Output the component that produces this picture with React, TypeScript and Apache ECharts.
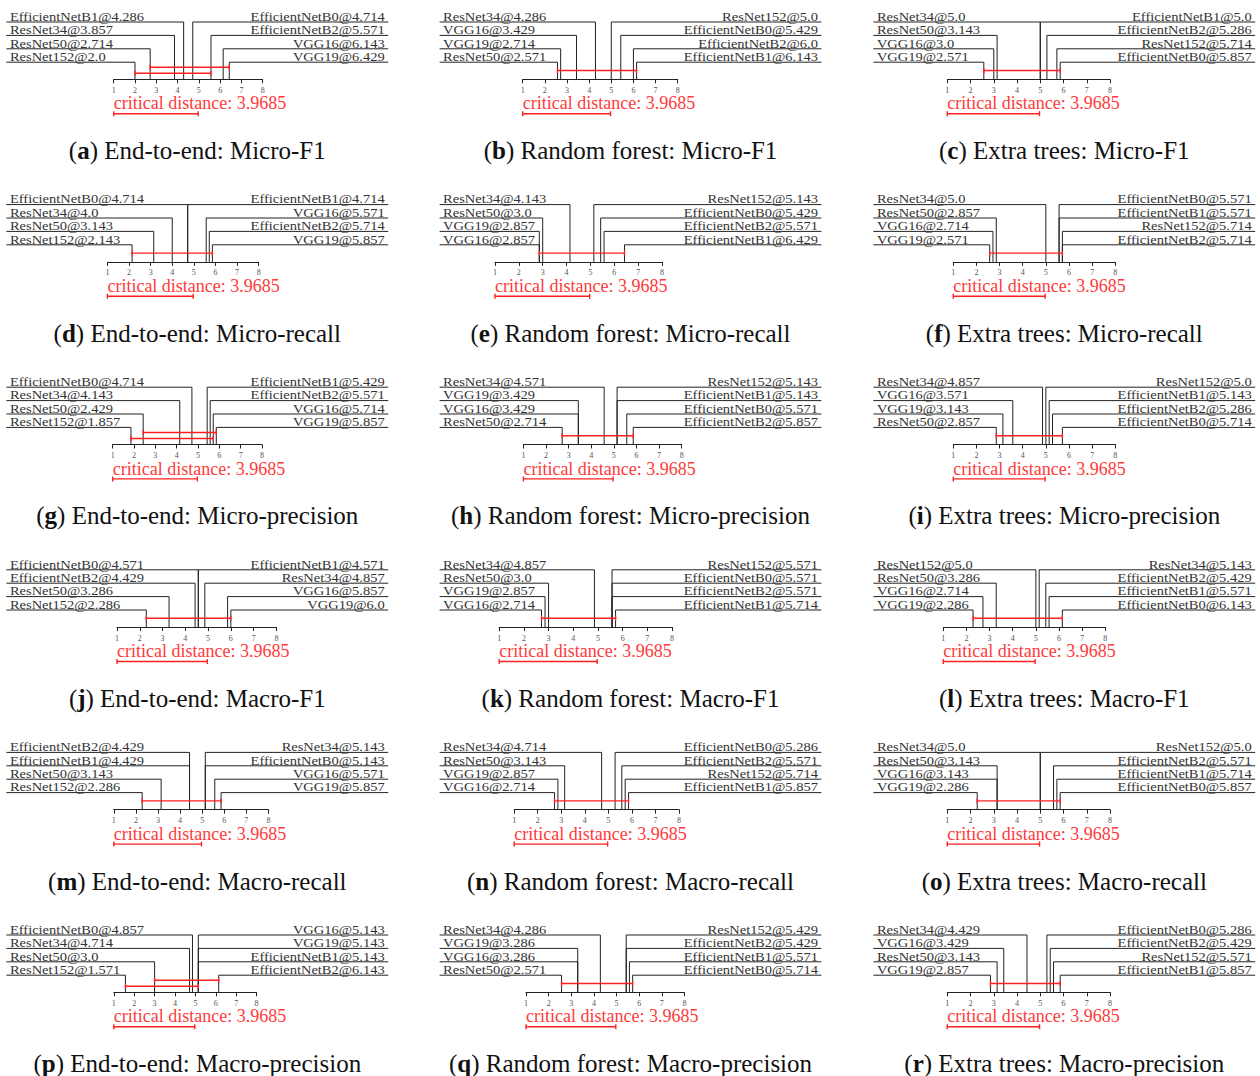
import React, { useEffect, useRef } from "react";
import * as echarts from "echarts";

// ---------- data ----------
const CD = 3.9685;

const NAMES_A = ["EfficientNetB1", "ResNet34", "ResNet50", "ResNet152", "EfficientNetB0", "EfficientNetB2", "VGG16", "VGG19"];
const RANKS_A = [4.286, 3.857, 2.714, 2.0, 4.714, 5.571, 6.143, 6.429];
const CLIQUES_A = [[2.714, 6.429], [2.0, 5.571]];

const NAMES_B = ["ResNet34", "VGG16", "VGG19", "ResNet50", "ResNet152", "EfficientNetB0", "EfficientNetB2", "EfficientNetB1"];
const RANKS_B = [4.286, 3.429, 2.714, 2.571, 5.0, 5.429, 6.0, 6.143];
const CLIQUES_B = [[2.571, 6.143]];

const NAMES_C = ["ResNet34", "ResNet50", "VGG16", "VGG19", "EfficientNetB1", "EfficientNetB2", "ResNet152", "EfficientNetB0"];
const RANKS_C = [5.0, 3.143, 3.0, 2.571, 5.0, 5.286, 5.714, 5.857];
const CLIQUES_C = [[2.571, 5.857]];

const NAMES_D = ["EfficientNetB0", "ResNet34", "ResNet50", "ResNet152", "EfficientNetB1", "VGG16", "EfficientNetB2", "VGG19"];
const RANKS_D = [4.714, 4.0, 3.143, 2.143, 4.714, 5.571, 5.714, 5.857];
const CLIQUES_D = [[2.143, 5.857]];

const NAMES_E = ["ResNet34", "ResNet50", "VGG19", "VGG16", "ResNet152", "EfficientNetB0", "EfficientNetB2", "EfficientNetB1"];
const RANKS_E = [4.143, 3.0, 2.857, 2.857, 5.143, 5.429, 5.571, 6.429];
const CLIQUES_E = [[2.857, 6.429]];

const NAMES_F = ["ResNet34", "ResNet50", "VGG16", "VGG19", "EfficientNetB0", "EfficientNetB1", "ResNet152", "EfficientNetB2"];
const RANKS_F = [5.0, 2.857, 2.714, 2.571, 5.571, 5.571, 5.714, 5.714];
const CLIQUES_F = [[2.571, 5.714]];

const NAMES_G = ["EfficientNetB0", "ResNet34", "ResNet50", "ResNet152", "EfficientNetB1", "EfficientNetB2", "VGG16", "VGG19"];
const RANKS_G = [4.714, 4.143, 2.429, 1.857, 5.429, 5.571, 5.714, 5.857];
const CLIQUES_G = [[2.429, 5.857], [1.857, 5.714]];

const NAMES_H = ["ResNet34", "VGG19", "VGG16", "ResNet50", "ResNet152", "EfficientNetB1", "EfficientNetB0", "EfficientNetB2"];
const RANKS_H = [4.571, 3.429, 3.429, 2.714, 5.143, 5.143, 5.571, 5.857];
const CLIQUES_H = [[2.714, 5.857]];

const NAMES_I = ["ResNet34", "VGG16", "VGG19", "ResNet50", "ResNet152", "EfficientNetB1", "EfficientNetB2", "EfficientNetB0"];
const RANKS_I = [4.857, 3.571, 3.143, 2.857, 5.0, 5.143, 5.286, 5.714];
const CLIQUES_I = [[2.857, 5.714]];

const NAMES_J = ["EfficientNetB0", "EfficientNetB2", "ResNet50", "ResNet152", "EfficientNetB1", "ResNet34", "VGG16", "VGG19"];
const RANKS_J = [4.571, 4.429, 3.286, 2.286, 4.571, 4.857, 5.857, 6.0];
const CLIQUES_J = [[2.286, 6.0]];

const NAMES_K = ["ResNet34", "ResNet50", "VGG19", "VGG16", "ResNet152", "EfficientNetB0", "EfficientNetB2", "EfficientNetB1"];
const RANKS_K = [4.857, 3.0, 2.857, 2.714, 5.571, 5.571, 5.571, 5.714];
const CLIQUES_K = [[2.714, 5.714]];

const NAMES_L = ["ResNet152", "ResNet50", "VGG16", "VGG19", "ResNet34", "EfficientNetB2", "EfficientNetB1", "EfficientNetB0"];
const RANKS_L = [5.0, 3.286, 2.714, 2.286, 5.143, 5.429, 5.571, 6.143];
const CLIQUES_L = [[2.286, 6.143]];

const NAMES_M = ["EfficientNetB2", "EfficientNetB1", "ResNet50", "ResNet152", "ResNet34", "EfficientNetB0", "VGG16", "VGG19"];
const RANKS_M = [4.429, 4.429, 3.143, 2.286, 5.143, 5.143, 5.571, 5.857];
const CLIQUES_M = [[2.286, 5.857]];

const NAMES_N = ["ResNet34", "ResNet50", "VGG19", "VGG16", "EfficientNetB0", "EfficientNetB2", "ResNet152", "EfficientNetB1"];
const RANKS_N = [4.714, 3.143, 2.857, 2.714, 5.286, 5.571, 5.714, 5.857];
const CLIQUES_N = [[2.714, 5.857]];

const NAMES_O = ["ResNet34", "ResNet50", "VGG16", "VGG19", "ResNet152", "EfficientNetB2", "EfficientNetB1", "EfficientNetB0"];
const RANKS_O = [5.0, 3.143, 3.143, 2.286, 5.0, 5.571, 5.714, 5.857];
const CLIQUES_O = [[2.286, 5.857]];

const NAMES_P = ["EfficientNetB0", "ResNet34", "ResNet50", "ResNet152", "VGG16", "VGG19", "EfficientNetB1", "EfficientNetB2"];
const RANKS_P = [4.857, 4.714, 3.0, 1.571, 5.143, 5.143, 5.143, 6.143];
const CLIQUES_P = [[3.0, 6.143], [1.571, 5.143]];

const NAMES_Q = ["ResNet34", "VGG19", "VGG16", "ResNet50", "ResNet152", "EfficientNetB2", "EfficientNetB1", "EfficientNetB0"];
const RANKS_Q = [4.286, 3.286, 3.286, 2.571, 5.429, 5.429, 5.571, 5.714];
const CLIQUES_Q = [[2.571, 5.714]];

const NAMES_R = ["ResNet34", "VGG16", "ResNet50", "VGG19", "EfficientNetB0", "EfficientNetB2", "ResNet152", "EfficientNetB1"];
const RANKS_R = [4.429, 3.429, 3.143, 2.857, 5.286, 5.429, 5.571, 5.857];
const CLIQUES_R = [[2.857, 5.857]];

const LETTERS = ["a", "b", "c", "d", "e", "f", "g", "h", "i", "j", "k", "l", "m", "n", "o", "p", "q", "r"];
const CAPTIONS = [
  "End-to-end: Micro-F1", "Random forest: Micro-F1", "Extra trees: Micro-F1",
  "End-to-end: Micro-recall", "Random forest: Micro-recall", "Extra trees: Micro-recall",
  "End-to-end: Micro-precision", "Random forest: Micro-precision", "Extra trees: Micro-precision",
  "End-to-end: Macro-F1", "Random forest: Macro-F1", "Extra trees: Macro-F1",
  "End-to-end: Macro-recall", "Random forest: Macro-recall", "Extra trees: Macro-recall",
  "End-to-end: Macro-precision", "Random forest: Macro-precision", "Extra trees: Macro-precision",
];
const AXIS_TICKS = [1, 2, 3, 4, 5, 6, 7, 8];

const PANELS = [
  [NAMES_A, RANKS_A, CLIQUES_A], [NAMES_B, RANKS_B, CLIQUES_B], [NAMES_C, RANKS_C, CLIQUES_C],
  [NAMES_D, RANKS_D, CLIQUES_D], [NAMES_E, RANKS_E, CLIQUES_E], [NAMES_F, RANKS_F, CLIQUES_F],
  [NAMES_G, RANKS_G, CLIQUES_G], [NAMES_H, RANKS_H, CLIQUES_H], [NAMES_I, RANKS_I, CLIQUES_I],
  [NAMES_J, RANKS_J, CLIQUES_J], [NAMES_K, RANKS_K, CLIQUES_K], [NAMES_L, RANKS_L, CLIQUES_L],
  [NAMES_M, RANKS_M, CLIQUES_M], [NAMES_N, RANKS_N, CLIQUES_N], [NAMES_O, RANKS_O, CLIQUES_O],
  [NAMES_P, RANKS_P, CLIQUES_P], [NAMES_Q, RANKS_Q, CLIQUES_Q], [NAMES_R, RANKS_R, CLIQUES_R],
] as any[];

// ---------- layout (pixel positions of rank 1 and rank 8 per panel) ----------
const AXIS_X = [
  [113.7, 262.7], [522.7, 677.7], [947.3, 1110],
  [107.4, 258.7], [495, 662], [953.3, 1115.3],
  [112.7, 262], [523.4, 681.7], [953.3, 1115.3],
  [117, 276.4], [499.2, 672], [943.3, 1105.3],
  [113.8, 268.4], [514.2, 679], [947.3, 1110],
  [113.8, 256.6], [526, 684.4], [947.3, 1110],
];
const COL_LEFT = [6.4, 439.6, 873.4];
const COL_W = 381.8;
const ROW_H = 182.6;
const FIRST_LINE = 22;
const AXIS_Y = 79.3;
const ROW_GAP = 13.4;

const SERIF = "'Liberation Serif', 'Times New Roman', serif";
const INK = "#222";
const RED = "#ff2020";

function fmt(v: number) {
  return Number.isInteger(v) ? v.toFixed(1) : String(v);
}

function buildOption() {
  const grid: any[] = [];
  const xAxis: any[] = [];
  const yAxis: any[] = [];
  const series: any[] = [];
  const graphic: any[] = [];

  PANELS.forEach((p, i) => {
    const [names, ranks, cliques] = p;
    const col = i % 3;
    const row = Math.floor(i / 3);
    const top = row * ROW_H;
    const edgeL = COL_LEFT[col];
    const edgeR = edgeL + COL_W;
    const [x1, x8] = AXIS_X[i];

    grid.push({
      left: x1,
      width: x8 - x1,
      top: top + FIRST_LINE,
      height: AXIS_Y - FIRST_LINE,
      containLabel: false,
      outerBoundsMode: "none",
    });
    xAxis.push({
      gridIndex: i,
      type: "value",
      min: AXIS_TICKS[0],
      max: AXIS_TICKS[AXIS_TICKS.length - 1],
      interval: 1,
      axisLine: { show: true, lineStyle: { color: INK, width: 1 } },
      axisTick: { show: true, length: 4, lineStyle: { color: INK, width: 1 } },
      axisLabel: { show: true, fontSize: 8, lineHeight: 8, color: "#555", margin: 7, fontFamily: SERIF },
      splitLine: { show: false },
    });
    yAxis.push({ gridIndex: i, type: "value", min: 0, max: 1, show: false });

    // model lines + labels
    series.push({
      type: "custom",
      xAxisIndex: i,
      yAxisIndex: i,
      silent: true,
      z: 2,
      data: ranks.map((r: number, k: number) => [r, k % 4, k < 4 ? 0 : 1, k]),
      renderItem: (params: any, api: any) => {
        const cs = params.coordSys;
        const rank = api.value(0);
        const rIdx = api.value(1);
        const side = api.value(2);
        const k = api.value(3);
        const px = api.coord([rank, 0])[0];
        const ly = cs.y + rIdx * ROW_GAP;
        const ay = cs.y + cs.height;
        const ex = side === 0 ? edgeL : edgeR;
        return {
          type: "group",
          children: [
            { type: "line", shape: { x1: px, y1: ly, x2: px, y2: ay }, style: { stroke: INK, lineWidth: 1 } },
            { type: "line", shape: { x1: ex, y1: ly, x2: px, y2: ly }, style: { stroke: INK, lineWidth: 1 } },
            {
              type: "text",
              x: side === 0 ? edgeL + 3.5 : edgeR - 3.5,
              y: ly - 5.3,
              scaleY: 0.83,
              style: {
                text: names[k] + "@" + fmt(rank),
                fill: "#333",
                fontSize: 14.5,
                lineHeight: 11,
                fontFamily: SERIF,
                align: side === 0 ? "left" : "right",
                verticalAlign: "middle",
                textAlign: side === 0 ? "left" : "right",
                textVerticalAlign: "middle",
              },
            },
          ],
        };
      },
    });

    // cliques
    const nC = cliques.length;
    series.push({
      type: "custom",
      xAxisIndex: i,
      yAxisIndex: i,
      silent: true,
      z: 5,
      data: cliques.map((c: number[], j: number) => [c[0], c[1], j]),
      renderItem: (params: any, api: any) => {
        const cs = params.coordSys;
        const a = api.coord([api.value(0), 0])[0];
        const b = api.coord([api.value(1), 0])[0];
        const j = api.value(2);
        const ay = cs.y + cs.height;
        const y = nC === 1 ? ay - 8.8 : ay - 12 + j * 6;
        const st = { stroke: RED, lineWidth: 1.4 };
        return {
          type: "group",
          children: [
            { type: "line", shape: { x1: a, y1: y, x2: b, y2: y }, style: st },
            { type: "line", shape: { x1: a, y1: y - 2.5, x2: a, y2: y + 2.5 }, style: st },
            { type: "line", shape: { x1: b, y1: y - 2.5, x2: b, y2: y + 2.5 }, style: st },
          ],
        };
      },
    });

    // critical distance bar + text
    series.push({
      type: "custom",
      xAxisIndex: i,
      yAxisIndex: i,
      silent: true,
      z: 5,
      data: [[AXIS_TICKS[0], AXIS_TICKS[0] + CD]],
      renderItem: (params: any, api: any) => {
        const cs = params.coordSys;
        const a = api.coord([api.value(0), 0])[0];
        const b = api.coord([api.value(1), 0])[0];
        const ay = cs.y + cs.height;
        const y = ay + 34.4;
        const st = { stroke: RED, lineWidth: 1.4 };
        return {
          type: "group",
          children: [
            { type: "line", shape: { x1: a, y1: y, x2: b, y2: y }, style: st },
            { type: "line", shape: { x1: a, y1: y - 2.5, x2: a, y2: y + 2.5 }, style: st },
            { type: "line", shape: { x1: b, y1: y - 2.5, x2: b, y2: y + 2.5 }, style: st },
            {
              type: "text",
              x: a,
              y: ay + 24,
              style: {
                text: "critical distance: " + CD,
                fill: "#ff3a3a",
                fontSize: 18,
                lineHeight: 14,
                fontFamily: SERIF,
                align: "left",
                verticalAlign: "middle",
                textAlign: "left",
                textVerticalAlign: "middle",
              },
            },
          ],
        };
      },
    });

    graphic.push({
      type: "text",
      x: (edgeL + edgeR) / 2,
      y: top + 150.7,
      silent: true,
      style: {
        text: "({b|" + LETTERS[i] + "}) " + CAPTIONS[i],
        rich: { b: { fontWeight: "bold", fontSize: 25, fontFamily: SERIF, fill: "#111" } },
        fill: "#111",
        fontSize: 25,
        fontFamily: SERIF,
        align: "center",
        verticalAlign: "middle",
        textAlign: "center",
        textVerticalAlign: "middle",
      },
    });
  });

  return {
    animation: false,
    backgroundColor: "#ffffff",
    grid,
    xAxis,
    yAxis,
    series,
    graphic,
  };
}

export default function App() {
  const ref = useRef<HTMLDivElement>(null);
  useEffect(() => {
    if (!ref.current) return;
    const chart = echarts.init(ref.current, null, { renderer: "svg" });
    chart.setOption(buildOption() as any);
    return () => chart.dispose();
  }, []);
  return (
    <div
      ref={ref}
      style={{ position: "fixed", left: 0, top: 0, width: 1260, height: 1076, background: "#fff" }}
    />
  );
}
